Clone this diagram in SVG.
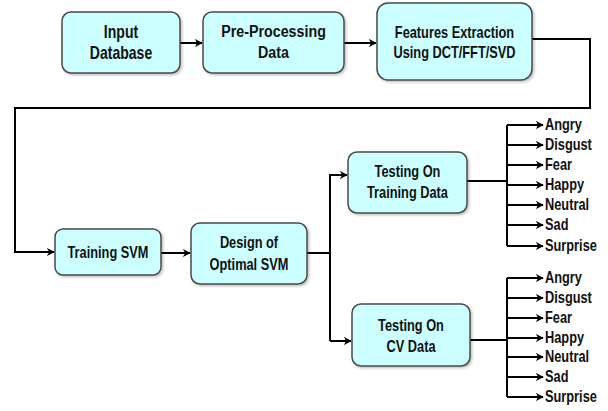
<svg xmlns="http://www.w3.org/2000/svg" width="608" height="411" viewBox="0 0 608 411">
<style>
.box{fill:#ccffff;stroke:#4a4a4a;stroke-width:1.5}
.t{font-family:"Liberation Sans",Arial,sans-serif;font-weight:bold;font-size:16px;fill:#111;text-anchor:middle}
.l{font-family:"Liberation Sans",Arial,sans-serif;font-weight:bold;font-size:16px;fill:#111}
.c{fill:none;stroke:#000;stroke-width:2}
.a{marker-end:url(#ah)}
</style>
<defs>
<marker id="ah" viewBox="0 0 10 10" refX="9" refY="5" markerWidth="8" markerHeight="8" markerUnits="userSpaceOnUse" orient="auto">
<path d="M0,0 L10,5 L0,10 L3,5 z" fill="#000"/>
</marker>
<filter id="sh" x="-10%" y="-10%" width="130%" height="130%">
<feDropShadow dx="1.5" dy="1.5" stdDeviation="1" flood-color="#000" flood-opacity="0.25"/>
</filter>
</defs>
<g id="connectors">
<path class="c a" d="M180,43 H202"/>
<path class="c a" d="M344,43 H376"/>
<path class="c a" d="M532,39 H590 V108 H15 V252 H54"/>
<path class="c a" d="M161,253 H190"/>
<path class="c" d="M307,253 H330"/>
<path class="c a" d="M330,341 V175 H347"/>
<path class="c a" d="M330,341 H351"/>
<path class="c" d="M467,181 H507"/>
<path class="c" d="M507,125 V246"/>
<path class="c a" d="M507,125 H543"/>
<path class="c a" d="M507,145 H543"/>
<path class="c a" d="M507,165 H543"/>
<path class="c a" d="M507,185 H543"/>
<path class="c a" d="M507,205 H543"/>
<path class="c a" d="M507,225 H543"/>
<path class="c a" d="M507,246 H543"/>
<path class="c" d="M470,340 H507"/>
<path class="c" d="M507,278 V397"/>
<path class="c a" d="M507,278 H543"/>
<path class="c a" d="M507,298 H543"/>
<path class="c a" d="M507,318 H543"/>
<path class="c a" d="M507,338 H543"/>
<path class="c a" d="M507,357 H543"/>
<path class="c a" d="M507,377 H543"/>
<path class="c a" d="M507,397 H543"/>
</g>
<g id="input-database">
<rect class="box" filter="url(#sh)" x="62" y="12" width="118" height="61" rx="9"/>
<text class="t" transform="translate(121,38) scale(0.78,1)" style="font-size:18px">Input</text>
<text class="t" transform="translate(121,59) scale(0.78,1)" style="font-size:18px">Database</text>
</g>
<g id="pre-processing">
<rect class="box" filter="url(#sh)" x="203" y="12" width="141" height="61" rx="9"/>
<text class="t" transform="translate(273.5,37) scale(0.84,1)" style="font-size:17px">Pre-Processing</text>
<text class="t" transform="translate(273.5,58) scale(0.84,1)" style="font-size:17px">Data</text>
</g>
<g id="features-extraction">
<rect class="box" filter="url(#sh)" x="377" y="3" width="155" height="77" rx="11"/>
<text class="t" transform="translate(454.5,38) scale(0.8,1)">Features Extraction</text>
<text class="t" transform="translate(454.5,58) scale(0.8,1)">Using DCT/FFT/SVD</text>
</g>
<g id="training-svm">
<rect class="box" filter="url(#sh)" x="55" y="229" width="106" height="46" rx="8"/>
<text class="t" transform="translate(108,258) scale(0.8,1)">Training SVM</text>
</g>
<g id="design-optimal-svm">
<rect class="box" filter="url(#sh)" x="191" y="223" width="116" height="61" rx="9"/>
<text class="t" transform="translate(249,248) scale(0.8,1)">Design of</text>
<text class="t" transform="translate(249,270) scale(0.8,1)">Optimal SVM</text>
</g>
<g id="testing-training">
<rect class="box" filter="url(#sh)" x="348" y="152" width="119" height="61" rx="9"/>
<text class="t" transform="translate(407.5,177) scale(0.8,1)">Testing On</text>
<text class="t" transform="translate(407.5,198) scale(0.8,1)">Training Data</text>
</g>
<g id="testing-cv">
<rect class="box" filter="url(#sh)" x="352" y="304" width="118" height="62" rx="9"/>
<text class="t" transform="translate(411,331) scale(0.8,1)">Testing On</text>
<text class="t" transform="translate(411,352) scale(0.8,1)">CV Data</text>
</g>
<g id="labels-training">
<text class="l" transform="translate(545,130) scale(0.8,1)">Angry</text>
<text class="l" transform="translate(545,150) scale(0.8,1)">Disgust</text>
<text class="l" transform="translate(545,170) scale(0.8,1)">Fear</text>
<text class="l" transform="translate(545,190) scale(0.8,1)">Happy</text>
<text class="l" transform="translate(545,210) scale(0.8,1)">Neutral</text>
<text class="l" transform="translate(545,230) scale(0.8,1)">Sad</text>
<text class="l" transform="translate(545,251) scale(0.8,1)">Surprise</text>
</g>
<g id="labels-cv">
<text class="l" transform="translate(545,283) scale(0.8,1)">Angry</text>
<text class="l" transform="translate(545,303) scale(0.8,1)">Disgust</text>
<text class="l" transform="translate(545,323) scale(0.8,1)">Fear</text>
<text class="l" transform="translate(545,343) scale(0.8,1)">Happy</text>
<text class="l" transform="translate(545,362) scale(0.8,1)">Neutral</text>
<text class="l" transform="translate(545,382) scale(0.8,1)">Sad</text>
<text class="l" transform="translate(545,402) scale(0.8,1)">Surprise</text>
</g>
</svg>
